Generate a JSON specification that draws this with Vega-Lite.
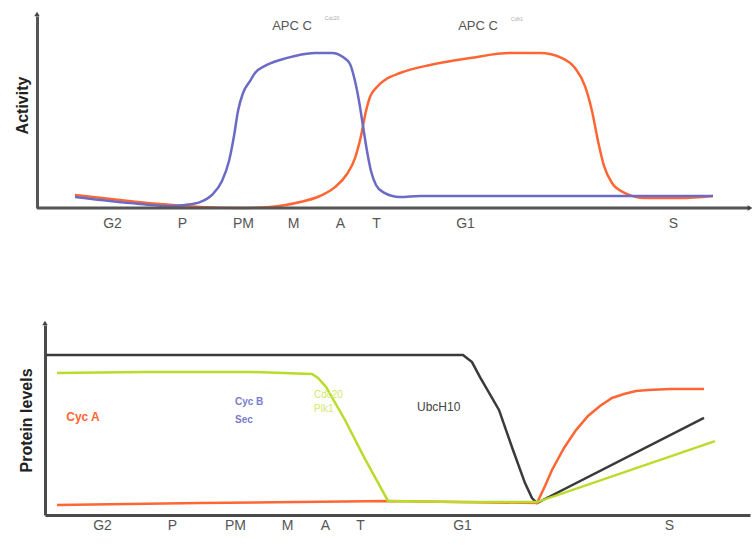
{
  "$schema": "https://vega.github.io/schema/vega-lite/v6.json",
  "padding": {"left": 14, "top": 11, "right": 0, "bottom": 0},
  "spacing": 90,
  "config": {"view": {"stroke": null}, "font": "Liberation Sans"},
  "datasets": {
    "one": [{}],
    "activity": [
      {"t": 30, "a": 0.057, "s": "Cdc20"}, {"t": 65, "a": 0.036, "s": "Cdc20"}, {"t": 95, "a": 0.021, "s": "Cdc20"},
      {"t": 125, "a": 0.010, "s": "Cdc20"}, {"t": 140, "a": 0.016, "s": "Cdc20"}, {"t": 155, "a": 0.031, "s": "Cdc20"},
      {"t": 167, "a": 0.068, "s": "Cdc20"}, {"t": 177, "a": 0.141, "s": "Cdc20"}, {"t": 184, "a": 0.245, "s": "Cdc20"},
      {"t": 189, "a": 0.375, "s": "Cdc20"}, {"t": 193, "a": 0.505, "s": "Cdc20"}, {"t": 198, "a": 0.599, "s": "Cdc20"},
      {"t": 205, "a": 0.661, "s": "Cdc20"}, {"t": 210, "a": 0.703, "s": "Cdc20"}, {"t": 220, "a": 0.74, "s": "Cdc20"},
      {"t": 235, "a": 0.771, "s": "Cdc20"}, {"t": 250, "a": 0.792, "s": "Cdc20"}, {"t": 270, "a": 0.807, "s": "Cdc20"},
      {"t": 287, "a": 0.807, "s": "Cdc20"}, {"t": 298, "a": 0.786, "s": "Cdc20"}, {"t": 305, "a": 0.75, "s": "Cdc20"},
      {"t": 310, "a": 0.661, "s": "Cdc20"}, {"t": 314, "a": 0.557, "s": "Cdc20"}, {"t": 318, "a": 0.427, "s": "Cdc20"},
      {"t": 322, "a": 0.297, "s": "Cdc20"}, {"t": 326, "a": 0.193, "s": "Cdc20"}, {"t": 331, "a": 0.12, "s": "Cdc20"},
      {"t": 338, "a": 0.083, "s": "Cdc20"}, {"t": 355, "a": 0.057, "s": "Cdc20"}, {"t": 375, "a": 0.0625, "s": "Cdc20"},
      {"t": 668, "a": 0.0625, "s": "Cdc20"},
      {"t": 30, "a": 0.068, "s": "Cdh1"}, {"t": 75, "a": 0.042, "s": "Cdh1"}, {"t": 115, "a": 0.021, "s": "Cdh1"},
      {"t": 155, "a": 0.005, "s": "Cdh1"}, {"t": 195, "a": 0.0, "s": "Cdh1"}, {"t": 225, "a": 0.005, "s": "Cdh1"},
      {"t": 255, "a": 0.031, "s": "Cdh1"}, {"t": 275, "a": 0.0625, "s": "Cdh1"}, {"t": 290, "a": 0.109, "s": "Cdh1"},
      {"t": 302, "a": 0.177, "s": "Cdh1"}, {"t": 310, "a": 0.26, "s": "Cdh1"}, {"t": 316, "a": 0.375, "s": "Cdh1"},
      {"t": 321, "a": 0.505, "s": "Cdh1"}, {"t": 325, "a": 0.578, "s": "Cdh1"}, {"t": 331, "a": 0.625, "s": "Cdh1"},
      {"t": 340, "a": 0.667, "s": "Cdh1"}, {"t": 355, "a": 0.703, "s": "Cdh1"}, {"t": 385, "a": 0.745, "s": "Cdh1"},
      {"t": 425, "a": 0.781, "s": "Cdh1"}, {"t": 465, "a": 0.807, "s": "Cdh1"}, {"t": 495, "a": 0.807, "s": "Cdh1"},
      {"t": 517, "a": 0.781, "s": "Cdh1"}, {"t": 530, "a": 0.729, "s": "Cdh1"}, {"t": 540, "a": 0.635, "s": "Cdh1"},
      {"t": 547, "a": 0.505, "s": "Cdh1"}, {"t": 553, "a": 0.349, "s": "Cdh1"}, {"t": 559, "a": 0.219, "s": "Cdh1"},
      {"t": 567, "a": 0.13, "s": "Cdh1"}, {"t": 580, "a": 0.078, "s": "Cdh1"}, {"t": 600, "a": 0.052, "s": "Cdh1"},
      {"t": 635, "a": 0.052, "s": "Cdh1"}, {"t": 668, "a": 0.0625, "s": "Cdh1"}
    ],
    "protein": [
      {"t": 1, "l": 0.842, "s": "UbcH10"}, {"t": 418, "l": 0.842, "s": "UbcH10"}, {"t": 427, "l": 0.805, "s": "UbcH10"},
      {"t": 435, "l": 0.726, "s": "UbcH10"}, {"t": 454, "l": 0.553, "s": "UbcH10"}, {"t": 468, "l": 0.342, "s": "UbcH10"},
      {"t": 480, "l": 0.168, "s": "UbcH10"}, {"t": 487, "l": 0.089, "s": "UbcH10"}, {"t": 492, "l": 0.063, "s": "UbcH10"},
      {"t": 659, "l": 0.511, "s": "UbcH10"},
      {"t": 12, "l": 0.053, "s": "CycA"}, {"t": 155, "l": 0.063, "s": "CycA"}, {"t": 343, "l": 0.074, "s": "CycA"},
      {"t": 492, "l": 0.063, "s": "CycA"}, {"t": 500, "l": 0.153, "s": "CycA"}, {"t": 507, "l": 0.237, "s": "CycA"},
      {"t": 519, "l": 0.353, "s": "CycA"}, {"t": 531, "l": 0.447, "s": "CycA"}, {"t": 543, "l": 0.521, "s": "CycA"},
      {"t": 555, "l": 0.574, "s": "CycA"}, {"t": 567, "l": 0.616, "s": "CycA"}, {"t": 579, "l": 0.637, "s": "CycA"},
      {"t": 591, "l": 0.653, "s": "CycA"}, {"t": 603, "l": 0.658, "s": "CycA"}, {"t": 625, "l": 0.663, "s": "CycA"},
      {"t": 659, "l": 0.663, "s": "CycA"},
      {"t": 12, "l": 0.747, "s": "Cdc20"}, {"t": 99, "l": 0.753, "s": "Cdc20"}, {"t": 205, "l": 0.753, "s": "Cdc20"},
      {"t": 267, "l": 0.742, "s": "Cdc20"}, {"t": 273, "l": 0.721, "s": "Cdc20"}, {"t": 281, "l": 0.674, "s": "Cdc20"},
      {"t": 300, "l": 0.5, "s": "Cdc20"}, {"t": 319, "l": 0.305, "s": "Cdc20"}, {"t": 343, "l": 0.074, "s": "Cdc20"},
      {"t": 415, "l": 0.068, "s": "Cdc20"}, {"t": 492, "l": 0.068, "s": "Cdc20"}, {"t": 670, "l": 0.389, "s": "Cdc20"}
    ]
  },
  "vconcat": [
    {
      "width": 705,
      "height": 192,
      "layer": [
        {
          "data": {"name": "activity"},
          "transform": [{"filter": "datum.s == 'Cdh1'"}],
          "mark": {"type": "line", "interpolate": "monotone", "strokeWidth": 2.5, "color": "#ff6633"},
          "encoding": {
            "x": {"field": "t", "type": "quantitative", "scale": {"domain": [0, 705], "nice": false, "zero": false},
              "axis": {"title": null, "values": [67, 137, 198, 248, 295, 331, 420, 628],
                "labelExpr": "datum.value == 67 ? 'G2' : datum.value == 137 ? 'P' : datum.value == 198 ? 'PM' : datum.value == 248 ? 'M' : datum.value == 295 ? 'A' : datum.value == 331 ? 'T' : datum.value == 420 ? 'G1' : 'S'",
                "domain": false, "ticks": false, "grid": false, "labelPadding": 8, "labelFontSize": 14, "labelColor": "#555555",
                "labelOverlap": false, "labelFlush": false, "labelBound": false}},
            "y": {"field": "a", "type": "quantitative", "scale": {"domain": [0, 1], "nice": false},
              "axis": {"title": "Activity", "titleFontSize": 16, "titleFontWeight": "bold", "titleColor": "#222222",
                "titlePadding": 7, "titleY": 89, "labels": false, "ticks": false, "grid": false,
                "domainColor": "#555555", "domainWidth": 3, "offset": 8}}
          }
        },
        {
          "data": {"name": "activity"},
          "transform": [{"filter": "datum.s == 'Cdc20'"}],
          "mark": {"type": "line", "interpolate": "monotone", "strokeWidth": 2.5, "color": "#6b6bc6"},
          "encoding": {
            "x": {"field": "t", "type": "quantitative"},
            "y": {"field": "a", "type": "quantitative"}
          }
        },
        {
          "data": {"name": "one"},
          "mark": {"type": "rule", "color": "#555555", "strokeWidth": 3},
          "encoding": {"x": {"datum": -8, "type": "quantitative"}, "x2": {"datum": 705}, "y": {"datum": 0, "type": "quantitative"}}
        },
        {
          "data": {"name": "one"},
          "mark": {"type": "point", "shape": "triangle-up", "filled": true, "size": 30, "color": "#444444", "opacity": 1, "yOffset": -2},
          "encoding": {"x": {"datum": -8, "type": "quantitative"}, "y": {"datum": 1, "type": "quantitative"}}
        },
        {
          "data": {"name": "one"},
          "mark": {"type": "point", "shape": "triangle-right", "filled": true, "size": 30, "color": "#444444", "opacity": 1},
          "encoding": {"x": {"datum": 705, "type": "quantitative"}, "y": {"datum": 0, "type": "quantitative"}}
        },
        {
          "data": {"name": "one"},
          "mark": {"type": "text", "text": "APC C", "fontSize": 13, "color": "#555555"},
          "encoding": {"x": {"datum": 247, "type": "quantitative"}, "y": {"datum": 0.948, "type": "quantitative"}}
        },
        {
          "data": {"name": "one"},
          "mark": {"type": "text", "text": "Cdc20", "fontSize": 5, "color": "#aaaaaa"},
          "encoding": {"x": {"datum": 287, "type": "quantitative"}, "y": {"datum": 0.99, "type": "quantitative"}}
        },
        {
          "data": {"name": "one"},
          "mark": {"type": "text", "text": "APC C", "fontSize": 13, "color": "#555555"},
          "encoding": {"x": {"datum": 433, "type": "quantitative"}, "y": {"datum": 0.948, "type": "quantitative"}}
        },
        {
          "data": {"name": "one"},
          "mark": {"type": "text", "text": "Cdh1", "fontSize": 5, "color": "#aaaaaa"},
          "encoding": {"x": {"datum": 472, "type": "quantitative"}, "y": {"datum": 0.985, "type": "quantitative"}}
        }
      ]
    },
    {
      "width": 705,
      "height": 190,
      "layer": [
        {
          "data": {"name": "protein"},
          "transform": [{"filter": "datum.s == 'UbcH10'"}],
          "mark": {"type": "line", "strokeWidth": 2.5, "color": "#3a3a3a"},
          "encoding": {
            "x": {"field": "t", "type": "quantitative", "scale": {"domain": [0, 705], "nice": false, "zero": false},
              "axis": {"title": null, "values": [57, 127, 190, 242, 280, 315, 417, 624],
                "labelExpr": "datum.value == 57 ? 'G2' : datum.value == 127 ? 'P' : datum.value == 190 ? 'PM' : datum.value == 242 ? 'M' : datum.value == 280 ? 'A' : datum.value == 315 ? 'T' : datum.value == 417 ? 'G1' : 'S'",
                "domain": true, "domainColor": "#4a4a4a", "domainWidth": 3, "ticks": false, "grid": false, "labelPadding": 3,
                "labelFontSize": 14, "labelColor": "#555555", "labelOverlap": false, "labelFlush": false, "labelBound": false}},
            "y": {"field": "l", "type": "quantitative", "scale": {"domain": [0, 1], "nice": false},
              "axis": {"title": "Protein levels", "titleFontSize": 16, "titleFontWeight": "bold", "titleColor": "#222222",
                "titlePadding": 11, "labels": false, "ticks": false, "grid": false,
                "domainColor": "#4a4a4a", "domainWidth": 3}}
          }
        },
        {
          "data": {"name": "protein"},
          "transform": [{"filter": "datum.s == 'CycA'"}],
          "mark": {"type": "line", "strokeWidth": 2.5, "color": "#ff6633"},
          "encoding": {
            "x": {"field": "t", "type": "quantitative"},
            "y": {"field": "l", "type": "quantitative"}
          }
        },
        {
          "data": {"name": "protein"},
          "transform": [{"filter": "datum.s == 'Cdc20'"}],
          "mark": {"type": "line", "strokeWidth": 2.5, "color": "#b8dc2a"},
          "encoding": {
            "x": {"field": "t", "type": "quantitative"},
            "y": {"field": "l", "type": "quantitative"}
          }
        },
        {
          "data": {"name": "one"},
          "mark": {"type": "point", "shape": "triangle-up", "filled": true, "size": 30, "color": "#444444", "opacity": 1, "yOffset": -2},
          "encoding": {"x": {"datum": 0, "type": "quantitative"}, "y": {"datum": 1, "type": "quantitative"}}
        },
        {
          "data": {"name": "one"},
          "mark": {"type": "text", "text": "Cyc A", "fontSize": 12, "fontWeight": "bold", "color": "#ff6633"},
          "encoding": {"x": {"datum": 38, "type": "quantitative"}, "y": {"datum": 0.516, "type": "quantitative"}}
        },
        {
          "data": {"name": "one"},
          "mark": {"type": "text", "text": "Cyc B", "fontSize": 10, "fontWeight": "bold", "color": "#7b7bcc", "align": "left"},
          "encoding": {"x": {"datum": 190, "type": "quantitative"}, "y": {"datum": 0.595, "type": "quantitative"}}
        },
        {
          "data": {"name": "one"},
          "mark": {"type": "text", "text": "Sec", "fontSize": 10, "fontWeight": "bold", "color": "#7b7bcc", "align": "left"},
          "encoding": {"x": {"datum": 190, "type": "quantitative"}, "y": {"datum": 0.5, "type": "quantitative"}}
        },
        {
          "data": {"name": "one"},
          "mark": {"type": "text", "text": "Cdc20", "fontSize": 10, "color": "#d4e86a", "align": "left"},
          "encoding": {"x": {"datum": 269, "type": "quantitative"}, "y": {"datum": 0.632, "type": "quantitative"}}
        },
        {
          "data": {"name": "one"},
          "mark": {"type": "text", "text": "Plk1", "fontSize": 10, "color": "#d4e86a", "align": "left"},
          "encoding": {"x": {"datum": 269, "type": "quantitative"}, "y": {"datum": 0.558, "type": "quantitative"}}
        },
        {
          "data": {"name": "one"},
          "mark": {"type": "text", "text": "UbcH10", "fontSize": 12, "color": "#444444", "align": "left"},
          "encoding": {"x": {"datum": 372, "type": "quantitative"}, "y": {"datum": 0.568, "type": "quantitative"}}
        }
      ]
    }
  ]
}
